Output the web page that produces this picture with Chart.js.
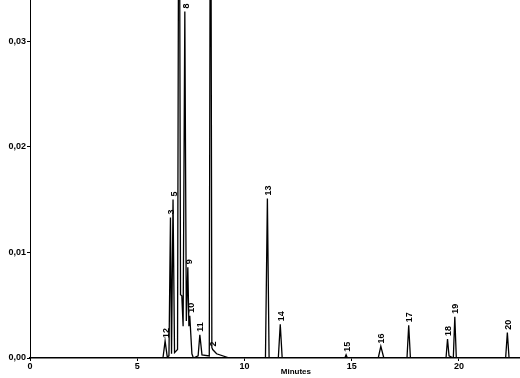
<!DOCTYPE html>
<html>
<head>
<meta charset="utf-8">
<script src="https://cdn.jsdelivr.net/npm/chart.js"></script>
<style>
  body { margin: 0; background: #fff; }
  canvas { display: block; }
</style>
</head>
<body>
<canvas id="chrom" width="520" height="378"></canvas>
<script>
// chromatogram trace (minutes, absorbance)
const times = [0, 6.2, 6.3, 6.4, 6.48, 6.55, 6.6, 6.67, 6.74, 6.88, 6.95, 7.02, 7.08, 7.14, 7.22, 7.29, 7.36, 7.41, 7.45, 7.55, 7.62,
  7.84, 7.92, 8.02, 8.36, 8.42, 8.48, 8.52, 8.7, 9.3, 10.98, 11.07, 11.15, 11.58, 11.67, 11.76, 14.68, 14.74, 14.8,
  16.24, 16.36, 16.5, 17.58, 17.66, 17.74, 19.4, 19.47, 19.54, 19.74, 19.81, 19.88, 22.18, 22.26, 22.34, 22.85];
const absorbance = [0, 0, 0.0016, 0.0001, 0.0002, 0.0133, 0.0004, 0.0150, 0.0005, 0.0008, 0.06, 0.0060, 0.0059, 0.0030, 0.0328, 0.0035, 0.0086, 0.0030, 0.0040, 0.0004, 0,
  0.0002, 0.0022, 0.0003, 0.0002, 0.06, 0.0010, 0.0008, 0.0004, 0, 0, 0.0151, 0, 0, 0.0032, 0, 0, 0.0003, 0,
  0, 0.0011, 0, 0, 0.0031, 0, 0, 0.0018, 0.0002, 0, 0.0039, 0, 0, 0.0024, 0, 0];

// peak numbers written above the peaks
const peakNames = ['12', '3', '5', '8', '9', '10', '11', '2', '13', '14', '15', '16', '17', '18', '19', '20'];
const peakTimes = [6.3, 6.55, 6.69, 7.24, 7.38, 7.47, 7.92, 8.52, 11.07, 11.67, 14.74, 16.36, 17.66, 19.47, 19.81, 22.26];
const peakTops = [0.0016, 0.0133, 0.0150, 0.0328, 0.0086, 0.0040, 0.0022, 0.0008, 0.0151, 0.0032, 0.0003, 0.0011, 0.0031, 0.0018, 0.0039, 0.0024];

const yTicks = [0, 0.01, 0.02, 0.03];
const xTicks = [0, 5, 10, 15, 20];

const trace = times.map((t, i) => ({ x: t, y: absorbance[i] }));

const peakLabels = {
  id: 'peakLabels',
  afterDatasetsDraw(chart) {
    const c = chart.ctx, xs = chart.scales.x, ys = chart.scales.y;
    c.save();
    c.fillStyle = '#000';
    c.font = 'bold 9px "Liberation Sans", Arial, sans-serif';
    c.textAlign = 'left';
    c.textBaseline = 'middle';
    peakNames.forEach((name, i) => {
      c.save();
      c.translate(xs.getPixelForValue(peakTimes[i]) + 1, ys.getPixelForValue(peakTops[i]) - 3);
      c.rotate(-Math.PI / 2);
      c.fillText(name, 0, 0);
      c.restore();
    });
    c.font = 'bold 8px "Liberation Sans", Arial, sans-serif';
    c.textAlign = 'center';
    c.fillText('Minutes', xs.getPixelForValue(12.4), 372);
    c.restore();
  }
};

new Chart(document.getElementById('chrom'), {
  type: 'line',
  data: {
    datasets: [{
      data: trace,
      borderColor: '#000',
      borderWidth: 1.3,
      pointRadius: 0,
      tension: 0,
      fill: false
    }]
  },
  options: {
    responsive: false,
    animation: false,
    layout: { padding: 0 },
    plugins: { legend: { display: false }, tooltip: { enabled: false } },
    scales: {
      x: {
        type: 'linear',
        min: 0,
        max: 22.85,
        afterFit(s) { s.height = 20; s.paddingLeft = 0; s.paddingRight = 0; },
        afterBuildTicks(s) { s.ticks = xTicks.map(v => ({ value: v })); },
        border: { display: true, color: '#000', width: 1.5 },
        grid: { display: true, drawOnChartArea: false, drawTicks: true, tickLength: 3, color: '#000' },
        ticks: {
          color: '#000',
          padding: 0,
          maxRotation: 0,
          includeBounds: false,
          font: { family: '"Liberation Sans", Arial, sans-serif', size: 9, weight: 'bold' }
        }
      },
      y: {
        min: 0,
        max: 0.0339,
        afterFit(s) { s.width = 30; s.paddingTop = 0; s.paddingBottom = 0; },
        afterBuildTicks(s) { s.ticks = yTicks.map(v => ({ value: v })); },
        border: { display: true, color: '#000', width: 1 },
        grid: { display: true, drawOnChartArea: false, drawTicks: true, tickLength: 3, color: '#000' },
        ticks: {
          color: '#000',
          padding: 1,
          includeBounds: false,
          callback: v => v.toFixed(2).replace('.', ','),
          font: { family: '"Liberation Sans", Arial, sans-serif', size: 9, weight: 'bold' }
        }
      }
    }
  },
  plugins: [peakLabels]
});
</script>
</body>
</html>
